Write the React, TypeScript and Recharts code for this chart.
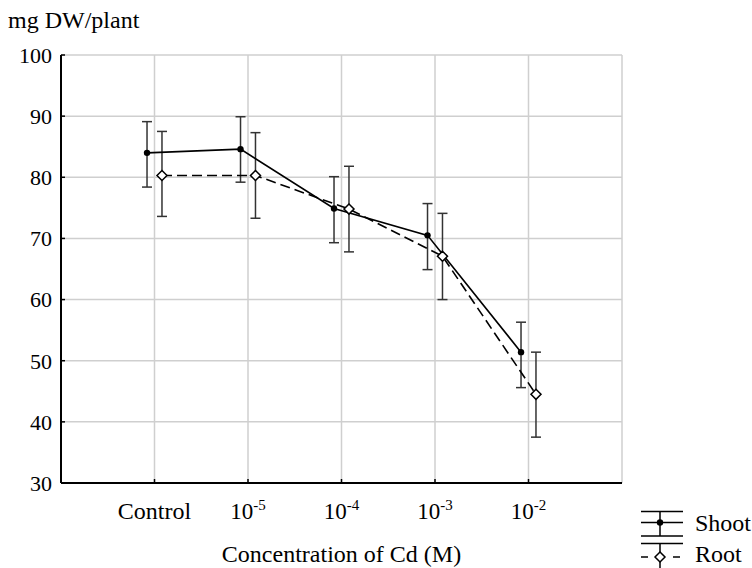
import { ComposedChart, Scatter, XAxis, YAxis, CartesianGrid, ErrorBar, Label } from 'recharts';

const categories = ['Control', '-5', '-4', '-3', '-2'];
const shootMean = [84.0, 84.6, 74.9, 70.5, 51.4];
const shootLow = [78.4, 79.2, 69.3, 64.9, 45.6];
const shootHigh = [89.1, 89.9, 80.1, 75.7, 56.3];
const rootMean = [80.3, 80.3, 74.8, 67.1, 44.5];
const rootLow = [73.6, 73.3, 67.8, 60.0, 37.5];
const rootHigh = [87.5, 87.3, 81.8, 74.1, 51.4];
const yTicks = [30, 40, 50, 60, 70, 80, 90, 100];
const xTicks = [1, 2, 3, 4, 5];

const FONT = '"Liberation Serif", "Times New Roman", serif';

const shootData = categories.map((c, i) => ({
  x: i + 1 - 0.08,
  y: shootMean[i],
  err: [shootMean[i] - shootLow[i], shootHigh[i] - shootMean[i]],
}));
const rootData = categories.map((c, i) => ({
  x: i + 1 + 0.08,
  y: rootMean[i],
  err: [rootMean[i] - rootLow[i], rootHigh[i] - rootMean[i]],
}));

function XTick(props: any) {
  const { x, y, payload } = props;
  const label = categories[Math.round(payload.value) - 1];
  if (label === 'Control') {
    return (
      <text x={x} y={y} dy={17} textAnchor="middle" fontSize={24} fontFamily={FONT} fill="#000">
        Control
      </text>
    );
  }
  return (
    <text x={x} y={y} dy={17} textAnchor="middle" fontSize={23} fontFamily={FONT} fill="#000">
      <tspan>10</tspan>
      <tspan fontSize={15} dy={-9}>{label}</tspan>
    </text>
  );
}

const NoTick = () => <g />;

function Dot(props: any) {
  const { cx, cy } = props;
  return <circle cx={cx} cy={cy} r={3.2} fill="#000" />;
}

function Diamond(props: any) {
  const { cx, cy } = props;
  const s = 5;
  return (
    <path
      d={`M${cx},${cy - s}L${cx + s},${cy}L${cx},${cy + s}L${cx - s},${cy}Z`}
      fill="#fff"
      stroke="#000"
      strokeWidth={1.5}
    />
  );
}

export default function App() {
  return (
    <div style={{ position: 'absolute', left: 0, top: 0, width: 752, height: 568, background: '#fff' }}>
      <ComposedChart
        width={752}
        height={568}
        margin={{ top: 55, right: 130, bottom: 0, left: 0 }}
        style={{ position: 'absolute', left: 0, top: 0 }}
      >
        <CartesianGrid stroke="#cfcfcf" strokeWidth={1.5} />
        <Scatter
          data={shootData}
          dataKey="y"
          shape={<Dot />}
          line={{ stroke: '#000', strokeWidth: 1.6 }}
          lineType="joint"
          isAnimationActive={false}
        >
          <ErrorBar dataKey="err" direction="y" width={5} stroke="#333" strokeWidth={1.5} />
        </Scatter>
        <Scatter
          data={rootData}
          dataKey="y"
          shape={<Diamond />}
          line={{ stroke: '#000', strokeWidth: 1.6, strokeDasharray: '10 5' }}
          lineType="joint"
          isAnimationActive={false}
        >
          <ErrorBar dataKey="err" direction="y" width={5} stroke="#333" strokeWidth={1.5} />
        </Scatter>
        <XAxis
          type="number"
          dataKey="x"
          domain={[0, 6]}
          ticks={xTicks}
          height={85}
          tickSize={-4}
          tickMargin={23}
          tick={<XTick />}
          axisLine={{ stroke: '#000', strokeWidth: 2 }}
          tickLine={{ stroke: '#000', strokeWidth: 1.5 }}
          interval={0}
        >
          <Label
            value="Concentration of Cd (M)"
            position="insideBottom"
            offset={6}
            fontSize={24}
            fontFamily={FONT}
            fill="#000"
          />
        </XAxis>
        <XAxis
          xAxisId="top"
          orientation="top"
          type="number"
          domain={[0, 6]}
          ticks={xTicks}
          height={0}
          tickSize={-4}
          tick={<NoTick />}
          axisLine={{ stroke: '#000', strokeWidth: 2 }}
          tickLine={{ stroke: '#000', strokeWidth: 1.5 }}
          interval={0}
        />
        <YAxis
          type="number"
          domain={[30, 100]}
          ticks={yTicks}
          width={61}
          tickSize={-4}
          tickMargin={13}
          tick={{ fontSize: 22, fill: '#000', fontFamily: FONT }}
          axisLine={{ stroke: '#000', strokeWidth: 2 }}
          tickLine={{ stroke: '#000', strokeWidth: 1.5 }}
          interval={0}
        />
        <YAxis
          yAxisId="right"
          orientation="right"
          type="number"
          domain={[30, 100]}
          ticks={yTicks}
          width={0}
          tickSize={-4}
          tick={<NoTick />}
          axisLine={{ stroke: '#000', strokeWidth: 2 }}
          tickLine={{ stroke: '#000', strokeWidth: 1.5 }}
          interval={0}
        />
      </ComposedChart>
      <svg
        width={752}
        height={568}
        style={{ position: 'absolute', left: 0, top: 0, pointerEvents: 'none' }}
      >
        <text x={8} y={28} fontSize={24} fontFamily={FONT} fill="#000">
          mg DW/plant
        </text>
        <g stroke="#000" strokeWidth={1.5}>
          <line x1={641} y1={511.5} x2={683} y2={511.5} />
          <line x1={641} y1={522.5} x2={683} y2={522.5} />
          <line x1={641} y1={536} x2={683} y2={536} />
          <line x1={660} y1={511.5} x2={660} y2={536} />
          <line x1={641} y1={543.5} x2={683} y2={543.5} />
          <line x1={660} y1={543.5} x2={660} y2={568} />
          <line x1={641} y1={557} x2={648} y2={557} />
          <line x1={673} y1={557} x2={680} y2={557} />
        </g>
        <circle cx={660} cy={522.5} r={3.2} fill="#000" />
        <path d="M660,552L665,557L660,562L655,557Z" fill="#fff" stroke="#000" strokeWidth={1.5} />
        <text x={695} y={531} fontSize={24} fontFamily={FONT} fill="#000">
          Shoot
        </text>
        <text x={695} y={562} fontSize={24} fontFamily={FONT} fill="#000">
          Root
        </text>
      </svg>
    </div>
  );
}
